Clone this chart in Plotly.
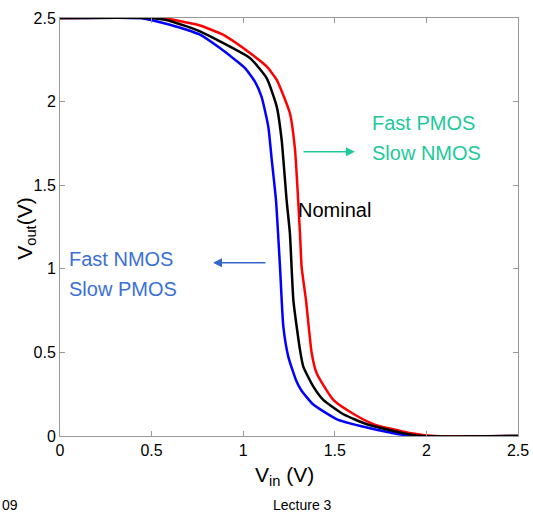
import plotly.graph_objects as go

# Inverter voltage transfer characteristics across process corners
vin_fast_nmos = [0, 0.437, 0.508, 0.60, 0.692, 0.764, 0.873, 0.944, 1.01, 1.064, 1.10, 1.137,
                 1.156, 1.179, 1.201, 1.219, 1.246, 1.288, 1.316, 1.381, 1.512, 1.64, 1.807, 1.92, 2.5]
vout_fast_nmos = [2.5, 2.5, 2.485, 2.46, 2.43, 2.40, 2.32, 2.26, 2.20, 2.12, 2.03, 1.85,
                  1.65, 1.41, 1.01, 0.655, 0.475, 0.335, 0.275, 0.19, 0.10, 0.06, 0.02, 0.0, 0.0]

vin_nominal = [0, 0.475, 0.573, 0.692, 0.764, 0.873, 1.037, 1.128, 1.183, 1.21, 1.237, 1.255,
               1.274, 1.31, 1.328, 1.383, 1.437, 1.547, 1.676, 1.861, 1.976, 2.5]
vout_nominal = [2.5, 2.5, 2.49, 2.45, 2.42, 2.36, 2.26, 2.14, 1.97, 1.77, 1.41, 1.21,
                0.81, 0.515, 0.415, 0.295, 0.216, 0.13, 0.07, 0.02, 0.0, 0.0]

vin_fast_pmos = [0, 0.562, 0.692, 0.764, 0.89, 1.037, 1.128, 1.183, 1.255, 1.283, 1.30, 1.31,
                 1.319, 1.343, 1.374, 1.401, 1.492, 1.605, 1.714, 1.90, 2.047, 2.5]
vout_fast_pmos = [2.5, 2.5, 2.473, 2.455, 2.40, 2.29, 2.21, 2.13, 1.93, 1.71, 1.41, 1.21,
                  1.01, 0.81, 0.495, 0.375, 0.216, 0.13, 0.07, 0.02, 0.0, 0.0]

x_ticks = [0, 0.5, 1, 1.5, 2, 2.5]
y_ticks = [0, 0.5, 1, 1.5, 2, 2.5]
x_tick_text = ["0", "0.5", "1", "1.5", "2", "2.5"]
y_tick_text = ["0", "0.5", "1", "1.5", "2", "2.5"]

FONT = "Liberation Sans, Arial, sans-serif"
TEAL = "#1DC99B"
BLUE_TXT = "#3B6FD8"

fig = go.Figure()
for xs, ys, col in [(vin_fast_nmos, vout_fast_nmos, "#0000FF"),
                    (vin_fast_pmos, vout_fast_pmos, "#FF0000"),
                    (vin_nominal, vout_nominal, "#000000")]:
    fig.add_trace(go.Scatter(x=xs, y=ys, mode="lines",
                             line=dict(color=col, width=2.5, shape="spline", smoothing=0.5),
                             showlegend=False))

axis_common = dict(showline=True, linecolor="#999999", linewidth=1, mirror="allticks",
                   ticks="inside", ticklen=5, tickcolor="#999999", showgrid=False,
                   zeroline=False, automargin=False,
                   tickfont=dict(family=FONT, size=16, color="black"))

fig.update_xaxes(range=[0, 2.5], tickvals=x_ticks, ticktext=x_tick_text, **axis_common)
fig.update_yaxes(range=[0, 2.5], tickvals=y_ticks, ticktext=y_tick_text, **axis_common)

annotations = [
    # corner labels
    dict(x=1.69, y=1.87, text="Fast PMOS", font=dict(color=TEAL, size=20)),
    dict(x=1.69, y=1.69, text="Slow NMOS", font=dict(color=TEAL, size=20)),
    dict(x=1.29, y=1.35, text="Nominal", font=dict(color="black", size=20)),
    dict(x=0.04, y=1.06, text="Fast NMOS", font=dict(color=BLUE_TXT, size=20)),
    dict(x=0.04, y=0.88, text="Slow PMOS", font=dict(color=BLUE_TXT, size=20)),
]
for a in annotations:
    a.update(xref="x", yref="y", xanchor="left", yanchor="middle", showarrow=False)
    a["font"]["family"] = FONT

# arrows pointing toward the shifted curves
arrows = [
    dict(x=1.61, y=1.70, ax=1.321, ay=1.70, arrowcolor=TEAL),
    dict(x=0.835, y=1.036, ax=1.13, ay=1.036, arrowcolor="#3366CC"),
]
for a in arrows:
    a.update(xref="x", yref="y", axref="x", ayref="y", text="", showarrow=True,
             arrowhead=2, arrowsize=1.2, arrowwidth=1.5)

# axis titles and footer
titles = [
    dict(x=-0.075, y=0.495, text="V<sub>out</sub>(V)", textangle=-90,
         font=dict(size=21), xanchor="center", yanchor="middle"),
    dict(x=0.49, y=-0.095, text="V<sub>in</sub> (V)", font=dict(size=21),
         xanchor="center", yanchor="middle"),
    dict(x=0.53, y=-0.165, text="Lecture 3", font=dict(size=14),
         xanchor="center", yanchor="middle"),
    dict(x=-0.131, y=-0.165, text="09", font=dict(size=14),
         xanchor="left", yanchor="middle"),
]
for a in titles:
    a.update(xref="paper", yref="paper", showarrow=False)
    a["font"]["family"] = FONT
    a["font"]["color"] = "black"

fig.update_layout(
    width=533, height=517,
    margin=dict(l=60, r=15, t=18, b=81, autoexpand=False),
    paper_bgcolor="white", plot_bgcolor="white",
    annotations=annotations + arrows + titles,
    font=dict(family=FONT),
)

fig.write_html("out.html")
